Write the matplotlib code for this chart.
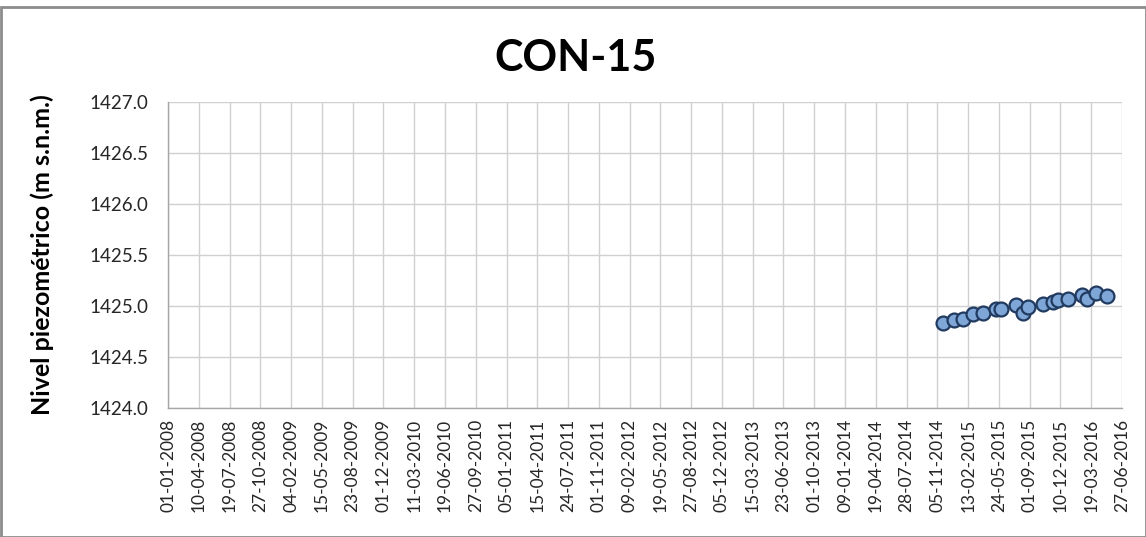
import pandas as pd
import matplotlib.pyplot as plt
from matplotlib.patches import Rectangle

# ----------------------
# DATA
# ----------------------
fechas = [
    "2014-11-22", "2014-12-30", "2015-01-28", "2015-03-02", "2015-04-01",
    "2015-05-15", "2015-05-31", "2015-07-19", "2015-08-09", "2015-08-28",
    "2015-10-15", "2015-11-17", "2015-12-01", "2016-01-02", "2016-02-18",
    "2016-03-04", "2016-04-03", "2016-05-08",
]
nivel = [
    1424.83, 1424.86, 1424.87, 1424.92, 1424.93,
    1424.97, 1424.975, 1425.01, 1424.93, 1424.99,
    1425.02, 1425.04, 1425.06, 1425.07, 1425.105,
    1425.07, 1425.125, 1425.10,
]
titulo = "CON-15"
etiqueta_y = "Nivel piezométrico (m s.n.m.)"
y_ticks = [1424.0, 1424.5, 1425.0, 1425.5, 1426.0, 1426.5, 1427.0]

# x ticks every 100 days from 01-01-2008
x_ticks = pd.date_range("2008-01-01", "2016-06-27", freq="100D")

# ----------------------
# PLOT
# ----------------------
plt.rcParams["font.family"] = ["Lato", "DejaVu Sans"]

W, H = 1146, 537
fig = plt.figure(figsize=(W / 100, H / 100), dpi=100)
ax = fig.add_axes([168 / W, 1 - 408 / H, (1122 - 168) / W, (408 - 102) / H])

fechas_dt = pd.to_datetime(fechas)
ax.plot(fechas_dt, nivel, linestyle="none", marker="o", markersize=10,
        markerfacecolor="#7EA6D6", markeredgecolor="#203A60",
        markeredgewidth=1.6, zorder=3, clip_on=False)

ax.set_xlim(x_ticks[0], x_ticks[-1])
ax.set_ylim(1424.0, 1427.0)
ax.set_yticks(y_ticks)
ax.set_yticklabels([f"{v:.1f}" for v in y_ticks], fontsize=13.5)
ax.set_xticks(x_ticks)
ax.set_xticklabels([d.strftime("%d-%m-%Y") for d in x_ticks],
                   rotation=90, fontsize=12.5)
ax.tick_params(length=0, pad=8, colors="#262626")
ax.tick_params(axis="y", pad=14)

ax.grid(True, color="#D0D0D0", linewidth=1.0)
ax.set_axisbelow(True)
for side in ["top", "right"]:
    ax.spines[side].set_visible(False)
for side in ["left", "bottom"]:
    ax.spines[side].set_color("#A6A6A6")
    ax.spines[side].set_linewidth(1.0)

fig.text(576 / W, 1 - 58 / H, titulo, ha="center", va="center",
         fontsize=31, fontweight="bold")
fig.text(42 / W, 1 - 255 / H, etiqueta_y, ha="center", va="center",
         rotation=90, fontsize=18, fontweight="bold")

# outer chart border
fig.patches.append(Rectangle((1 / W, 0), (W - 1) / W, 1 - 7 / H,
                             transform=fig.transFigure, fill=False,
                             edgecolor="#8C8C8C", linewidth=2))

fig.savefig("out.png", dpi=100)
